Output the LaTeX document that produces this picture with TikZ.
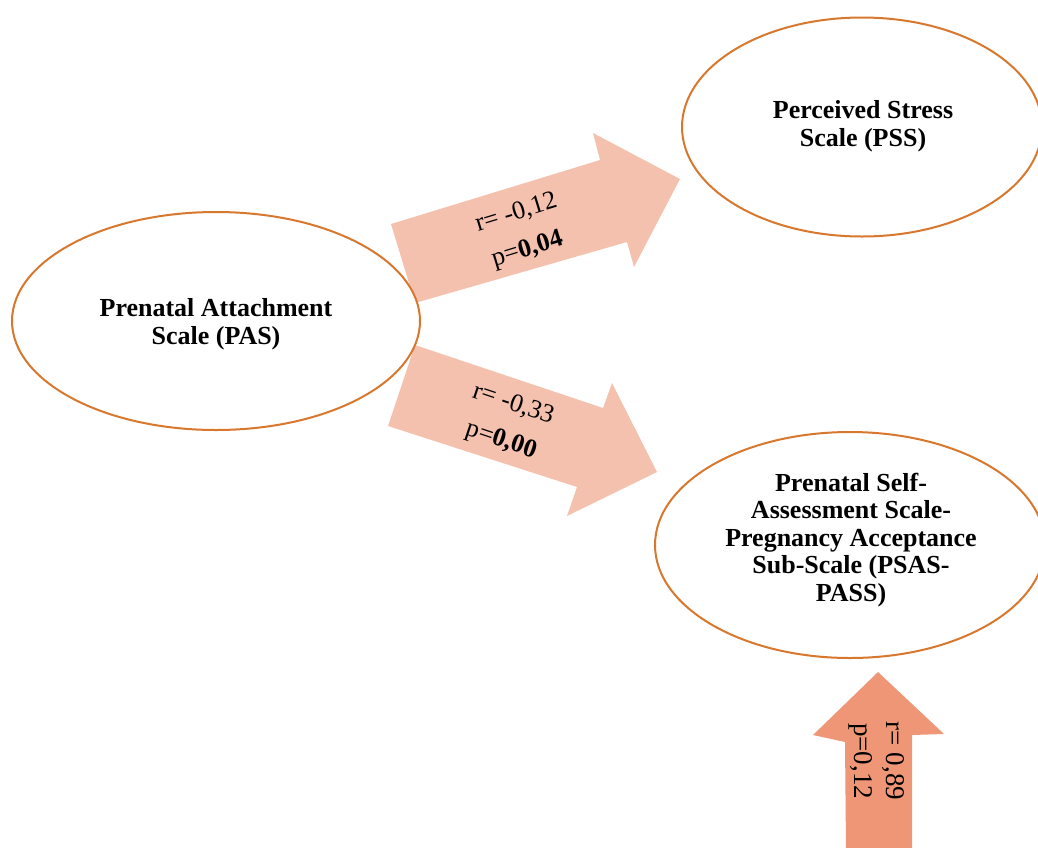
\documentclass[tikz,border=0pt]{standalone}
\usepackage{fontspec}
\setmainfont{Liberation Serif}
\usetikzlibrary{shapes.geometric}
\definecolor{ellline}{HTML}{D8772E}
\definecolor{arrlight}{HTML}{F5C1AF}
\definecolor{arrdark}{HTML}{EE9676}
\tikzset{
  scalebox/.style={ellipse, draw=ellline, line width=2pt, fill=white, inner sep=0pt},
  scaletext/.style={align=center, inner sep=0pt, font=\fontsize{26}{27.5}\selectfont\bfseries},
  arrlabel/.style={align=center, font=\fontsize{26}{38}\selectfont, inner sep=0pt}
}
\begin{document}
\begin{tikzpicture}[x=1pt,y=-1pt]
\useasboundingbox (0,0) rectangle (1038,847);
\begin{scope}
\clip (0,0) rectangle (1038,847);
% block arrows
\fill[arrlight] (391,224) -- (600,160) -- (593,133) -- (680,179) -- (634,267) -- (627,242) -- (415,303) -- cycle;
\fill[arrlight] (415,345) -- (603,408) -- (612,383) -- (657,472) -- (567,516) -- (577,487) -- (388,426) -- cycle;
\fill[arrdark] (878,672) -- (944,734) -- (912,735) -- (912,850) -- (846,850) -- (845,742) -- (813,735) -- cycle;
% ellipses
\node[scalebox, minimum width=408pt, minimum height=218pt] (pas) at (216,321) {};
\node[scalebox, minimum width=360pt, minimum height=219pt] (pss) at (862,127) {};
\node[scalebox, minimum width=390pt, minimum height=226pt] (psas) at (850,545) {};
\end{scope}
\node[scaletext] (pastext) at (216,324) {Prenatal Attachment\\Scale (PAS)};
\node[scaletext] (psstext) at (863,126) {Perceived Stress\\Scale (PSS)};
\node[scaletext] (psastext) at (851,540) {Prenatal Self-\\Assessment Scale-\\Pregnancy Acceptance\\Sub-Scale (PSAS-\\PASS)};
% labels
\node[arrlabel, rotate=17] (l1) at (522,232) {r= -0,12\\p=\textbf{0,04}};
\node[arrlabel, rotate=-18.5] (l2) at (507,423) {r= -0,33\\p=\textbf{0,00}};
\node[arrlabel, rotate=-90, font=\fontsize{27}{32}\selectfont] (l3) at (877,761) {r= 0,89\\p=0,12};
\end{tikzpicture}
\end{document}
